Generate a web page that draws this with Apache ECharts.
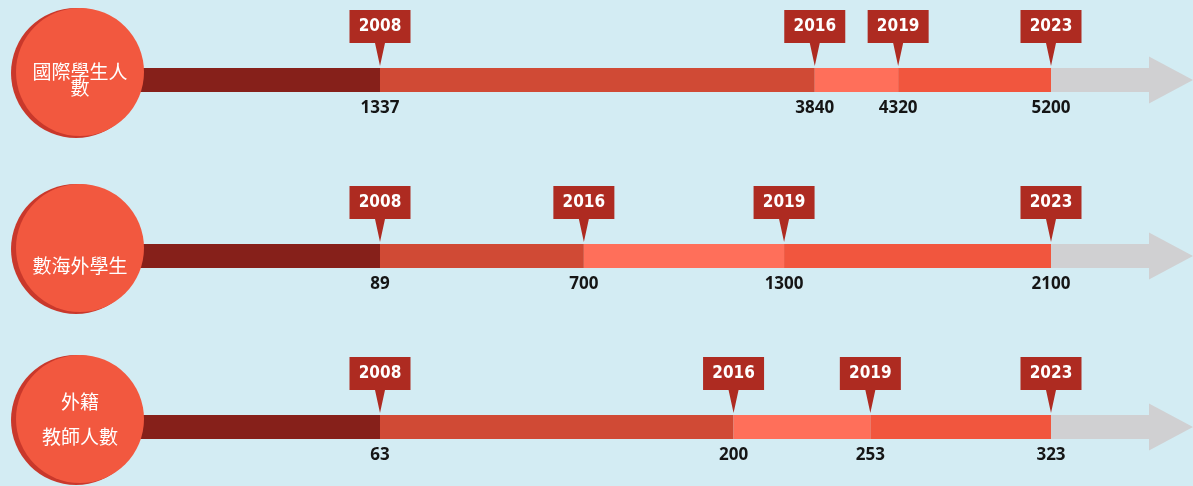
<!DOCTYPE html>
<html>
<head>
<meta charset="utf-8">
<style>
  html, body { margin: 0; padding: 0; background: #D3ECF3; }
  #chart { width: 1193px; height: 486px; }
</style>
<script src="https://cdn.jsdelivr.net/npm/echarts@6/dist/echarts.min.js"></script>
</head>
<body>
<div id="chart"></div>
<script>
// data
var years = ['2008', '2016', '2019', '2023'];
var rowNames = ['國際學生人\n數', '數海外學生', '外籍\n教師人數'];
var intlStudents = [1337, 3840, 4320, 5200];
var overseasStudents = [89, 700, 1300, 2100];
var foreignTeachers = [63, 200, 253, 323];
var rows = [intlStudents, overseasStudents, foreignTeachers];

// layout
var segColors = ['#86201A', '#D04A35', '#FF6F5A', '#F1563E', '#D0D0D2'];
var rowCenters = [80, 256, 427];
var nameDy = [0, 10, -7.5];
var nameLineH = [16, 20, 35];
var gridLeft = 140, chartW = 1193;
var firstX = 380, lastX = 1051;
var barH = 24;

function axisRange(vals) {
    var w = chartW - gridLeft;
    var a = (firstX - gridLeft) / w, b = (lastX - gridLeft) / w;
    var span = (vals[vals.length - 1] - vals[0]) / (b - a);
    var min = vals[0] - a * span;
    return [min, min + span];
}

function renderSegment(params, api) {
    var p0 = api.coord([api.value(0), 0]);
    var p1 = api.coord([api.value(1), 0]);
    var ci = api.value(2);
    var y = p0[1];
    if (ci === 4) {
        var bx = p1[0] - 44, hh = 23.5;
        return {
            type: 'polygon',
            shape: { points: [[p0[0], y - barH / 2], [bx, y - barH / 2], [bx, y - hh], [p1[0], y],
                [bx, y + hh], [bx, y + barH / 2], [p0[0], y + barH / 2]] },
            style: { fill: segColors[ci] }
        };
    }
    return {
        type: 'rect',
        shape: { x: p0[0], y: y - barH / 2, width: p1[0] - p0[0], height: barH },
        style: { fill: segColors[ci] }
    };
}

function renderMarker(params, api) {
    var p = api.coord([api.value(0), 0]);
    var x = p[0], y = p[1];
    var hw = 30.5, top = y - 70, bot = y - 37, tip = y - 14;
    return {
        type: 'group',
        children: [{
            type: 'polygon',
            shape: { points: [[x - hw, top], [x + hw, top], [x + hw, bot], [x + 5, bot], [x, tip], [x - 5, bot], [x - hw, bot]] },
            style: { fill: '#AE2B21' }
        }, {
            type: 'text',
            x: x, y: y - 53,
            style: {
                text: years[params.dataIndex],
                fill: '#fff',
                font: 'bold condensed 17px "DejaVu Sans", sans-serif',
                align: 'center', verticalAlign: 'middle'
            }
        }, {
            type: 'text',
            x: x, y: y + 28,
            style: {
                text: String(api.value(0)),
                fill: '#151515',
                font: 'bold 17px "Open Sans", sans-serif',
                align: 'center', verticalAlign: 'middle'
            }
        }]
    };
}

function makeRenderBadge(r) {
    return function (params, api) {
        var p = api.coord([api.value(0), 0]);
        var cx = p[0] - 60, cy = p[1] - 8;
        return {
            type: 'group',
            children: [{
                type: 'circle', shape: { cx: cx - 4, cy: cy + 1, r: 65 },
                style: { fill: '#C9382B' }
            }, {
                type: 'circle', shape: { cx: cx, cy: cy, r: 64 },
                style: { fill: '#F2583F' }
            }, {
                type: 'text',
                x: cx, y: p[1] + nameDy[r],
                style: {
                    text: rowNames[r],
                    fill: '#fff',
                    font: '19px "Noto Sans CJK TC"',
                    lineHeight: nameLineH[r],
                    align: 'center', verticalAlign: 'middle'
                }
            }]
        };
    };
}

var grids = [], xAxes = [], yAxes = [], series = [];
rows.forEach(function (vals, r) {
    var rng = axisRange(vals);
    grids.push({ left: gridLeft, right: 0, top: rowCenters[r] - barH / 2, height: barH });
    xAxes.push({ type: 'value', gridIndex: r, min: rng[0], max: rng[1], show: false });
    yAxes.push({ type: 'category', gridIndex: r, data: [rowNames[r]], show: false });

    var segs = [[rng[0], vals[0], 0]];
    for (var i = 0; i < vals.length - 1; i++) segs.push([vals[i], vals[i + 1], i + 1]);
    segs.push([vals[vals.length - 1], rng[1], 4]);

    series.push({
        type: 'custom', xAxisIndex: r, yAxisIndex: r, z: 1, silent: true, clip: false,
        data: segs, renderItem: renderSegment
    });
    series.push({
        type: 'custom', xAxisIndex: r, yAxisIndex: r, z: 3, silent: true, clip: false,
        data: vals.map(function (v) { return [v]; }), renderItem: renderMarker
    });
    series.push({
        type: 'custom', xAxisIndex: r, yAxisIndex: r, z: 4, silent: true, clip: false,
        data: [[rng[0]]], renderItem: makeRenderBadge(r)
    });
});

var chart = echarts.init(document.getElementById('chart'));
chart.setOption({
    backgroundColor: '#D3ECF3',
    animation: false,
    grid: grids,
    xAxis: xAxes,
    yAxis: yAxes,
    series: series
});
</script>
</body>
</html>
